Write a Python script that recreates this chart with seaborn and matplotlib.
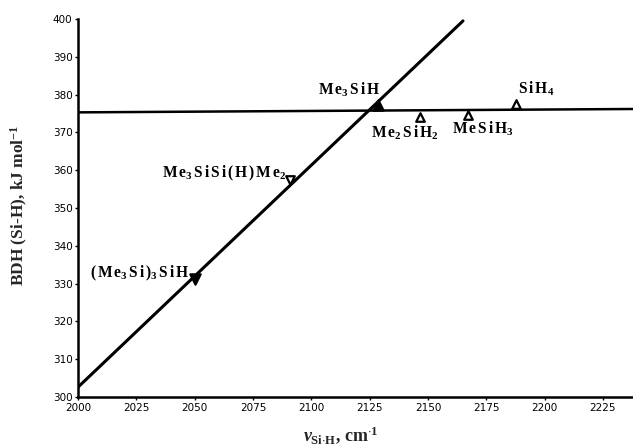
import matplotlib
matplotlib.use("Agg")
import matplotlib.pyplot as plt
import seaborn as sns
import pandas as pd

# Si-H stretching frequency (cm-1) vs. Si-H bond dissociation enthalpy (kJ/mol)
compounds = ["(Me3Si)3SiH", "Me3SiSi(H)Me2", "Me3SiH", "Me2SiH2", "MeSiH3", "SiH4"]
freq = [2050.1, 2090.9, 2128.6, 2146.6, 2167.0, 2187.7]
bdh = [331.2, 357.4, 377.2, 374.1, 374.6, 377.6]
markers = ["v", "v", "^", "^", "^", "^"]
filled = [True, False, True, False, False, False]

# correlation lines
trend_x = [2000, 2165]
trend_y = [302.6, 399.5]
flat_x = [2000, 2240]
flat_y = [375.3, 376.2]

# label placement relative to each point (data units) and anchoring
label_dx = [-2.3, -1.6, -25.7, -21.0, -6.7, 0.9]
label_dy = [0.5, 0.8, 2.7, -5.6, -4.8, 2.6]
label_ha = ["right", "right", "left", "left", "left", "left"]


def formula(name):
    """Bold serif formula with subscripted digits and open letter spacing."""
    parts = []
    for ch in name:
        if ch.isdigit():
            parts.append(r"_{\mathbf{%s}}" % ch)
        else:
            parts.append(r"\,\mathbf{%s}" % ch)
    s = "".join(parts)
    return "$" + s[2:] + "$"


sns.set_theme(style="ticks")
plt.rcParams["font.family"] = ["DejaVu Sans"]
plt.rcParams["mathtext.fontset"] = "custom"
plt.rcParams["mathtext.rm"] = "Liberation Serif:bold"
plt.rcParams["mathtext.bf"] = "Liberation Serif:bold"
plt.rcParams["mathtext.it"] = "Liberation Serif:italic:bold"
plt.rcParams["mathtext.default"] = "bf"

fig = plt.figure(figsize=(6.33, 4.48), dpi=100)
ax = fig.add_axes([78 / 633, 51 / 448, 560 / 633, 378 / 448])

sns.lineplot(x=trend_x, y=trend_y, ax=ax, color="black", lw=2.2)
sns.lineplot(x=flat_x, y=flat_y, ax=ax, color="black", lw=1.8)

df = pd.DataFrame({"freq": freq, "bdh": bdh, "m": markers, "f": filled})
for _, r in df.iterrows():
    sns.scatterplot(x=[r.freq], y=[r.bdh], ax=ax, marker=r.m,
                    s=55 if r.f else 38,
                    facecolor="black" if r.f else "white",
                    edgecolor="black", linewidth=1.6, zorder=5)

for name, x, y, dx, dy, ha in zip(compounds, freq, bdh, label_dx, label_dy, label_ha):
    ax.text(x + dx, y + dy, formula(name), fontsize=11.2, ha=ha,
            va="baseline", color="black")

ax.set_xlim(2000, 2240)
ax.set_ylim(300, 400)
ax.set_xticks([2000, 2025, 2050, 2075, 2100, 2125, 2150, 2175, 2200, 2225])
ax.set_yticks(range(300, 401, 10))
ax.tick_params(axis="both", direction="out", length=2.5, width=1,
               labelsize=7.5, pad=1.5, colors="black")
for s in ["top", "right"]:
    ax.spines[s].set_visible(False)
for s in ["left", "bottom"]:
    ax.spines[s].set_linewidth(1.8)
    ax.spines[s].set_color("black")

ax.set_ylabel(r"BDH (Si-H), kJ mol$^{\mathbf{-1}}$", family="Liberation Serif",
              fontweight="bold", fontsize=12.5)
ax.yaxis.set_label_coords(30 / 633, (448 - 205) / 448, transform=fig.transFigure)

ax.set_xlabel(r"$\mathit{\nu}_{\mathbf{Si{\cdot}H}}$, cm$^{\mathbf{\cdot 1}}$",
              family="Liberation Serif", fontweight="bold", fontsize=13)
ax.xaxis.set_label_coords(341 / 633, (448 - 424) / 448, transform=fig.transFigure)

fig.savefig("out.png", dpi=100)
